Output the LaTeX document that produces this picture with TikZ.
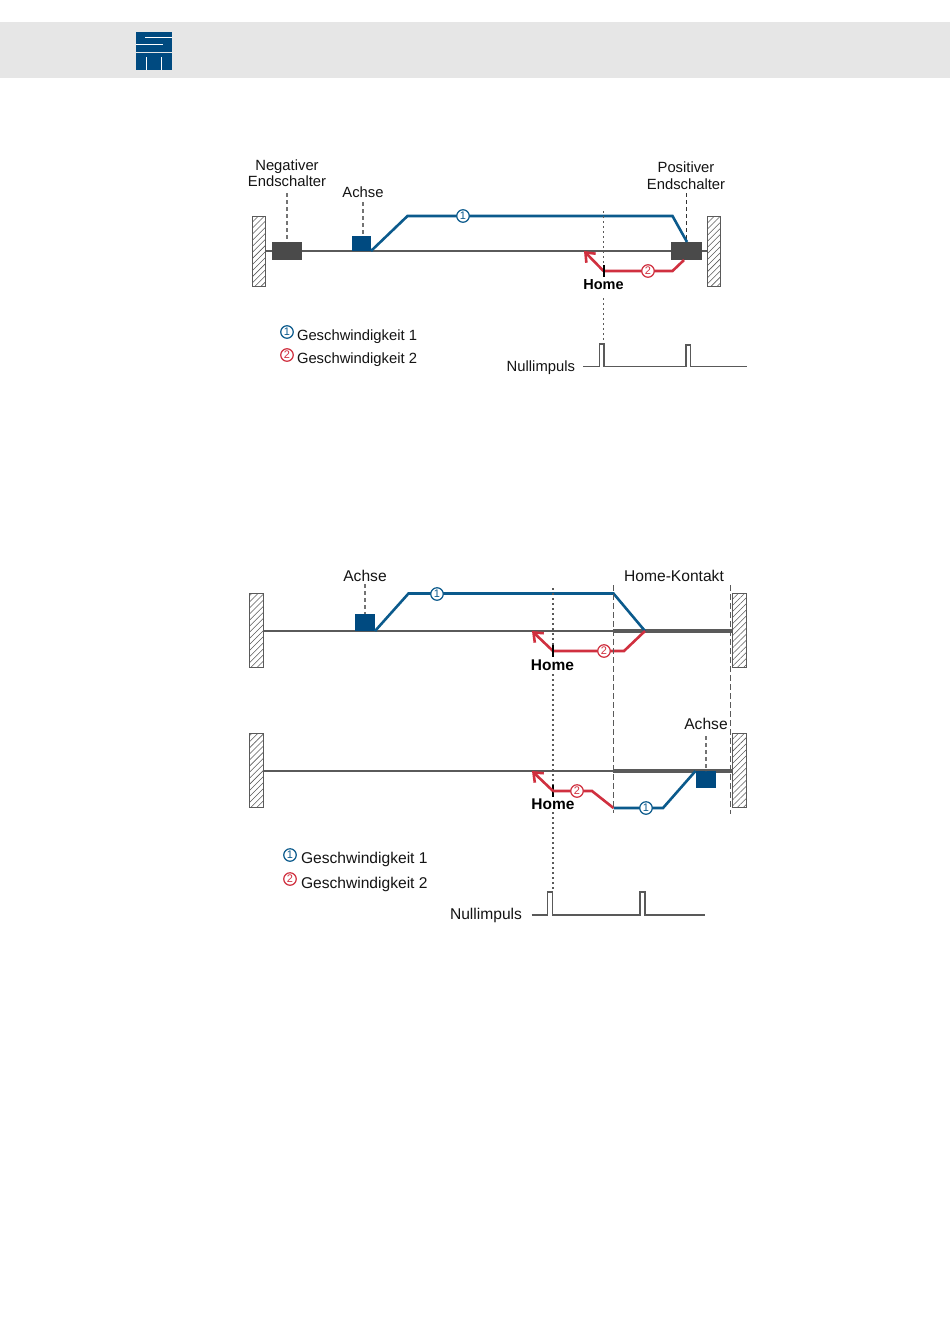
\documentclass[tikz,border=0pt]{standalone}
\usepackage{fontspec}
\setmainfont{Liberation Sans}
\usetikzlibrary{arrows.meta,patterns.meta}
\definecolor{sblue}{HTML}{0B5A8C}
\definecolor{sblock}{HTML}{004A80}
\definecolor{sred}{HTML}{D0303F}
\definecolor{sdark}{HTML}{4A4A4A}
\definecolor{sline}{HTML}{5A5A5A}
\definecolor{sband}{HTML}{E6E6E6}
\tikzset{
  x=1pt,y=-1pt,
  wall/.style={draw=sline,line width=.9pt,pattern={Lines[angle=45,distance=4.3pt,line width=.55pt]},pattern color=sline,
    minimum width=14pt,minimum height=74.5pt,inner sep=0pt,outer sep=0pt},
  switchbox/.style={fill=sdark,minimum width=30.5pt,minimum height=18pt,inner sep=0pt,outer sep=0pt},
  axisbox/.style={fill=sblock,minimum width=20pt,minimum height=17pt,inner sep=0pt,outer sep=0pt},
  lab/.style={anchor=base,inner sep=0pt,outer sep=0pt,text=black!92,font=\fontsize{14.8}{16}\selectfont},
  labb/.style={lab,font=\fontsize{15.6}{17}\selectfont},
  homelab/.style={anchor=base,inner sep=0pt,text=black,font=\fontsize{14.5}{16}\selectfont\bfseries},
  track/.style={draw=sline,line width=1.3pt},
  contact/.style={draw=sline,line width=3.6pt},
  leader/.style={draw=black!55,line width=1.2pt,dash pattern=on 4pt off 3pt},
  edge/.style={draw=sline,line width=1.1pt,dash pattern=on 6pt off 3pt},
  dots/.style={draw=black!65,line width=1.2pt,dash pattern=on 2pt off 3pt},
  pulse/.style={draw=black!65,line width=1.2pt,line join=miter},
  bluep/.style={draw=sblue,line width=2.6pt,line join=miter},
  redp/.style={draw=sred,line width=2.6pt,line join=miter},
  redarrow/.style={redp,-{Straight Barb[length=8pt,width=13pt,line width=2.6pt]}},
  tick/.style={draw=black,line width=2pt},
  num/.style={circle,draw=#1,fill=white,line width=1.2pt,text=#1,minimum size=12.5pt,inner sep=0pt,font=\fontsize{11}{11}\selectfont}
}
\begin{document}
\begin{tikzpicture}
\useasboundingbox (0,0) rectangle (950,1344);
\fill[white] (0,0) rectangle (950,1344);
% header
\fill[sband] (0,22) rectangle (950,78);
\fill[sblock] (136,32) rectangle (172,52);
\fill[white] (145,36.5) rectangle (172,37.7);
\fill[white] (136,43.5) rectangle (163,44.8);
\fill[sblock] (136,53.3) rectangle (172,70);
\fill[white] (145.6,57) rectangle (146.8,70);
\fill[white] (160.8,57) rectangle (162,70);

%%% Top diagram
\node[wall,minimum width=13pt,minimum height=70pt] (wallA) at (258.5,251) {};
\node[wall,minimum width=13pt,minimum height=70pt] (wallB) at (714,251) {};
\draw[track] (wallA.east |- 0,251) -- (wallB.west |- 0,251);
\node[switchbox] (negsw) at (287,251) {};
\node[switchbox] (possw) at (686.5,251) {};
\node[axisbox,minimum width=19pt,minimum height=15pt] (axisA) at (361.5,243.5) {};
\node[lab] (negl1) at (287,170) {Negativer};
\node[lab] (negl2) at (287,186) {Endschalter};
\node[lab] (achA) at (363,197) {Achse};
\node[lab] (posl1) at (686,172) {Positiver};
\node[lab] (posl2) at (686,189) {Endschalter};
\coordinate (negtop) at (287,193);
\coordinate (achAtop) at (363,202);
\coordinate (postop) at (686.5,193);
\draw[leader] (negtop) -- (negsw.north);
\draw[leader] (achAtop) -- (achA |- axisA.north);
\draw[leader,draw=black!80] (postop) -- (possw.north);
\coordinate (b1) at (axisA.south east);
\coordinate (b2) at (407.5,216);
\coordinate (b3) at (672.5,216);
\coordinate (b4) at (687,242);
\draw[bluep] (b1) -- (b2) -- (b3) -- (b4);
\coordinate (r1) at (684,260);
\coordinate (r2) at (672.5,271);
\coordinate (r3) at (603.5,271);
\coordinate (r4) at (584,251);
\draw[redp] (r1) -- (r2) -- (r3);
\draw[redarrow] (r3) -- (r4);
\node[num=sblue] (n1A) at (463,216) {1};
\node[num=sred] (n2A) at (648,271) {2};
\coordinate (hA1) at (603.5,211);
\coordinate (hA2) at (603.5,265);
\coordinate (hA3) at (603.5,277);
\coordinate (hA4) at (603.5,298);
\coordinate (hA5) at (603.5,344);
\draw[dots] (hA1) -- (hA2);
\draw[tick] (hA2) -- (hA3);
\draw[dots] (hA4) -- (hA5);
\node[homelab] (homeA) at (603.5,289) {Home};
\node[num=sblue] (legA1) at (287,332) {1};
\node[num=sred] (legA2) at (287,355) {2};
\node[lab,anchor=base west] (legA1t) at (297,340) {Geschwindigkeit 1};
\node[lab,anchor=base west] (legA2t) at (297,363) {Geschwindigkeit 2};
\node[lab,anchor=base east] (nullA) at (575,371) {Nullimpuls};
\coordinate (pA) at (583,366.5);
\draw[pulse] (pA) -- (599.5,366.5) -- (599.5,344) -- (604,344) -- (604,366.5) -- (686,366.5) -- (686,345) -- (690.5,345) -- (690.5,366.5) -- (747,366.5);

%%% Middle diagram
\node[wall] (wallC) at (256,630.5) {};
\node[wall] (wallD) at (739.5,630.5) {};
\draw[track] (wallC.east |- 0,631) -- (wallD.west |- 0,631);
\draw[contact] (613,631) -- (wallD.west |- 0,631);
\node[axisbox] (axisC) at (365,622.5) {};
\node[labb] (achC) at (365,581) {Achse};
\coordinate (achCtop) at (365,584);
\draw[leader] (achCtop) -- (axisC.north);
\node[labb] (hk) at (674,581) {Home-Kontakt};
\coordinate (c1) at (axisC.south east);
\coordinate (c2) at (408.5,593.5);
\coordinate (c3) at (613.5,593.5);
\coordinate (c4) at (645,631);
\draw[bluep] (c1) -- (c2) -- (c3) -- (c4);
\coordinate (d2) at (624,651);
\coordinate (d3) at (553,651);
\coordinate (d4) at (532,631);
\draw[redp] (c4) -- (d2) -- (d3);
\draw[redarrow] (d3) -- (d4);
\node[num=sblue] (n1C) at (437,594) {1};
\node[num=sred] (n2C) at (604,651) {2};
\coordinate (hC1) at (553,588);
\coordinate (hC2) at (553,645);
\coordinate (hC3) at (553,657);
\coordinate (hC4) at (553,674);
\coordinate (hC5) at (553,785);
\coordinate (hC6) at (553,797);
\coordinate (hC7) at (553,812);
\coordinate (hC8) at (553,891);
\draw[dots] (hC1) -- (hC2);
\draw[tick] (hC2) -- (hC3);
\draw[dots] (hC4) -- (hC5);
\draw[tick] (hC5) -- (hC6);
\draw[dots] (hC7) -- (hC8);
\node[homelab,font=\fontsize{15.5}{17}\selectfont\bfseries] (homeC) at (552.5,670.5) {Home};

%%% Lower diagram
\node[wall] (wallE) at (256,770.5) {};
\node[wall] (wallF) at (739.5,770.5) {};
\draw[track] (wallE.east |- 0,771) -- (wallF.west |- 0,771);
\draw[contact] (613,771) -- (wallF.west |- 0,771);
\node[axisbox] (axisE) at (706,779.5) {};
\node[labb] (achE) at (706,729) {Achse};
\coordinate (achEtop) at (706,736);
\draw[leader] (achEtop) -- (axisE.north);
\coordinate (e1) at (695.5,771);
\coordinate (e2) at (663,808);
\coordinate (e3) at (613.5,808);
\coordinate (e4) at (592,791);
\coordinate (e5) at (553,791);
\coordinate (e6) at (532,771);
\draw[bluep] (e1) -- (e2) -- (e3);
\draw[redp] (e3) -- (e4) -- (e5);
\draw[redarrow] (e5) -- (e6);
\node[num=sblue] (n1E) at (646,808) {1};
\node[num=sred] (n2E) at (577,791) {2};
\node[homelab,font=\fontsize{15.5}{17}\selectfont\bfseries] (homeE) at (553,809) {Home};
\coordinate (kt1) at (613.5,585);
\coordinate (kt2) at (613.5,813);
\coordinate (ke1) at (730.5,585);
\coordinate (ke2) at (730.5,814);
\draw[edge] (kt1) -- (kt2);
\draw[edge] (ke1) -- (ke2);
\node[num=sblue] (legE1) at (290,855) {1};
\node[num=sred] (legE2) at (290,879) {2};
\node[labb,anchor=base west] (legE1t) at (301,863) {Geschwindigkeit 1};
\node[labb,anchor=base west] (legE2t) at (301,888) {Geschwindigkeit 2};
\node[labb,anchor=base east] (nullE) at (522,919) {Nullimpuls};
\coordinate (pE) at (531.5,915);
\draw[pulse] (pE) -- (547.5,915) -- (547.5,892) -- (552.5,892) -- (552.5,915) -- (640,915) -- (640,892) -- (645,892) -- (645,915) -- (705,915);
\end{tikzpicture}
\end{document}
